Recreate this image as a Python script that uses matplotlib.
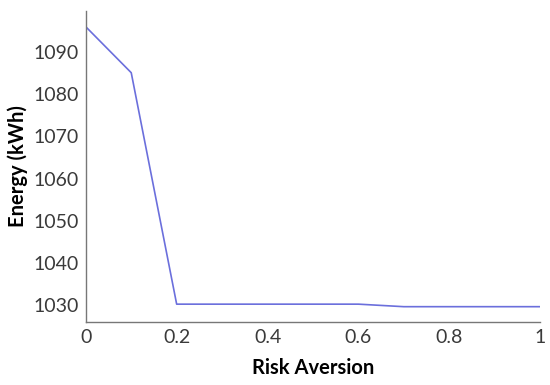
import matplotlib
matplotlib.use('Agg')
import matplotlib.pyplot as plt

# Values
risk_aversion = [0.0, 0.1, 0.2, 0.3, 0.4, 0.5, 0.6, 0.7, 0.8, 0.9, 1.0]
energy_kwh = [1096.0, 1085.1, 1030.2, 1030.2, 1030.2, 1030.2, 1030.2,
              1029.6, 1029.6, 1029.6, 1029.6]

x_ticks = [0, 0.2, 0.4, 0.6, 0.8, 1]
x_tick_labels = ['0', '0.2', '0.4', '0.6', '0.8', '1']
y_ticks = [1030, 1040, 1050, 1060, 1070, 1080, 1090]

plt.rcParams['font.family'] = ['Lato', 'DejaVu Sans']

fig = plt.figure(figsize=(5.5, 3.85), dpi=100)
ax = fig.add_axes([0.156, 0.164, 0.826, 0.807])

ax.plot(risk_aversion, energy_kwh, color='#6b6fdc', linewidth=1.2)

ax.set_xlim(0, 1)
ax.set_ylim(1026, 1099.7)
ax.set_xticks(x_ticks)
ax.set_xticklabels(x_tick_labels)
ax.set_yticks(y_ticks)
ax.tick_params(length=0, labelsize=14, labelcolor='#3a3a3a', pad=5)

for side in ['top', 'right']:
    ax.spines[side].set_visible(False)
for side in ['left', 'bottom']:
    ax.spines[side].set_color('#777777')
    ax.spines[side].set_linewidth(1.0)

ax.set_xlabel('Risk Aversion', fontsize=14.5, fontweight='bold', labelpad=9)
ax.set_ylabel('Energy (kWh)', fontsize=14.5, fontweight='bold', labelpad=4)

fig.savefig('out.png', dpi=100)
